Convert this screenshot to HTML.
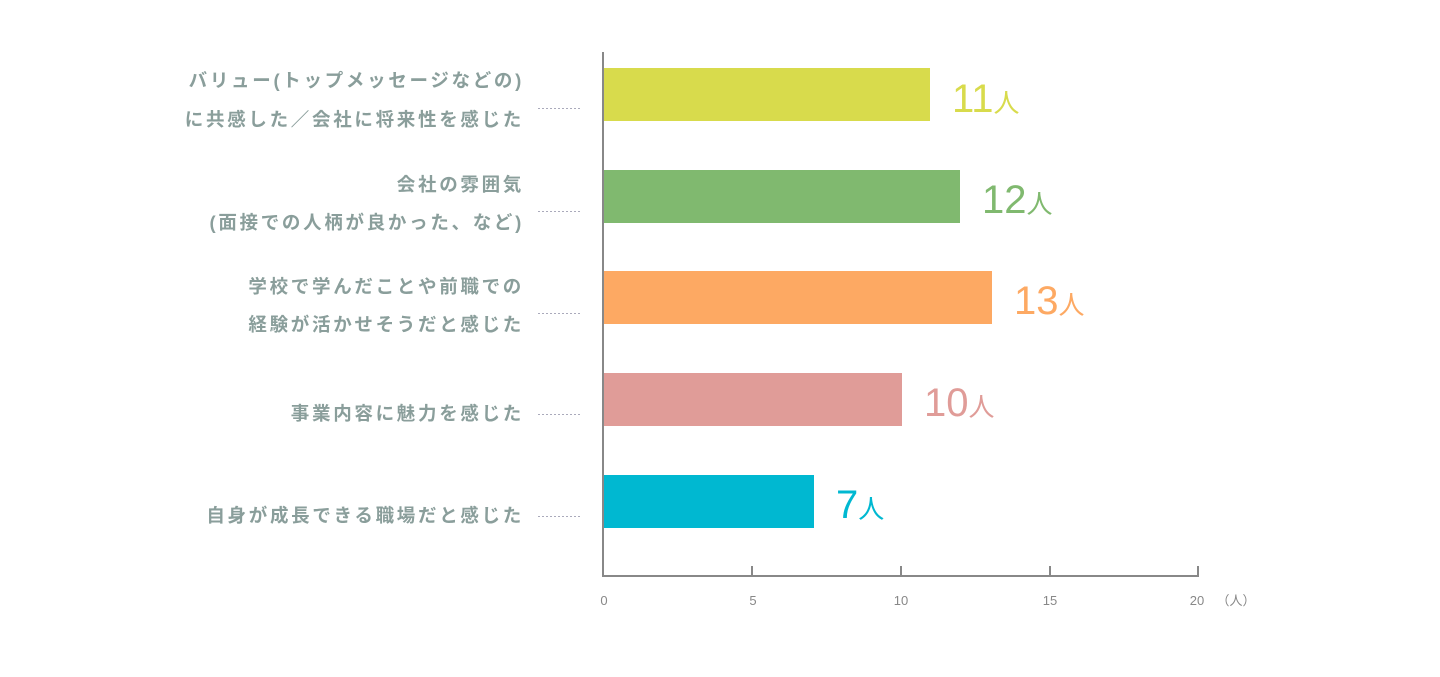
<!DOCTYPE html>
<html><head><meta charset="utf-8"><style>
body{margin:0;background:#fff;}
svg text{font-family:"Liberation Sans","Noto Sans CJK JP",sans-serif;}
</style></head><body>
<svg width="1440" height="672" viewBox="0 0 1440 672" xmlns="http://www.w3.org/2000/svg">
<g fill="#8a9e9b" font-size="18.5" font-weight="bold" text-anchor="end" letter-spacing="2.7">
<text x="524" y="87">バリュー(トップメッセージなどの)</text>
<text x="524" y="126">に共感した／会社に将来性を感じた</text>
<text x="524" y="191">会社の雰囲気</text>
<text x="524" y="229">(面接での人柄が良かった、など)</text>
<text x="524" y="293">学校で学んだことや前職での</text>
<text x="524" y="331">経験が活かせそうだと感じた</text>
<text x="524" y="420">事業内容に魅力を感じた</text>
<text x="524" y="522">自身が成長できる職場だと感じた</text>
</g>
<g stroke="#aab" stroke-width="1" stroke-dasharray="2,2">
<line x1="538" x2="580" y1="108.5" y2="108.5"/>
<line x1="538" x2="580" y1="211.5" y2="211.5"/>
<line x1="538" x2="580" y1="313.5" y2="313.5"/>
<line x1="538" x2="580" y1="414.5" y2="414.5"/>
<line x1="538" x2="580" y1="516.5" y2="516.5"/>
</g>
<rect x="604" y="68" width="326" height="53" fill="#d8db4c"/>
<rect x="604" y="170" width="356" height="53" fill="#80b96f"/>
<rect x="604" y="271" width="388" height="53" fill="#fda963"/>
<rect x="604" y="373" width="298" height="53" fill="#e09c98"/>
<rect x="604" y="475" width="210" height="53" fill="#00b8d1"/>
<g stroke="#888" stroke-width="2" fill="none">
<line x1="603" y1="52" x2="603" y2="577"/>
<line x1="602" y1="576" x2="1199" y2="576"/>
<line x1="752" y1="566" x2="752" y2="576"/>
<line x1="901" y1="566" x2="901" y2="576"/>
<line x1="1050" y1="566" x2="1050" y2="576"/>
<line x1="1198" y1="566" x2="1198" y2="576"/>
</g>
<g fill="#888" font-size="13" text-anchor="middle">
<text x="604" y="605">0</text><text x="753" y="605">5</text><text x="901" y="605">10</text><text x="1050" y="605">15</text><text x="1197" y="605">20</text><text x="1236" y="605">（人）</text>
</g>
<g font-size="40">
<text x="952" y="112" fill="#d8db4c">11<tspan font-size="26">人</tspan></text>
<text x="982" y="213" fill="#80b96f">12<tspan font-size="26">人</tspan></text>
<text x="1014" y="314" fill="#fda963">13<tspan font-size="26">人</tspan></text>
<text x="924" y="416" fill="#e09c98">10<tspan font-size="26">人</tspan></text>
<text x="836" y="518" fill="#00b8d1">7<tspan font-size="26">人</tspan></text>
</g>
</svg>
</body></html>
